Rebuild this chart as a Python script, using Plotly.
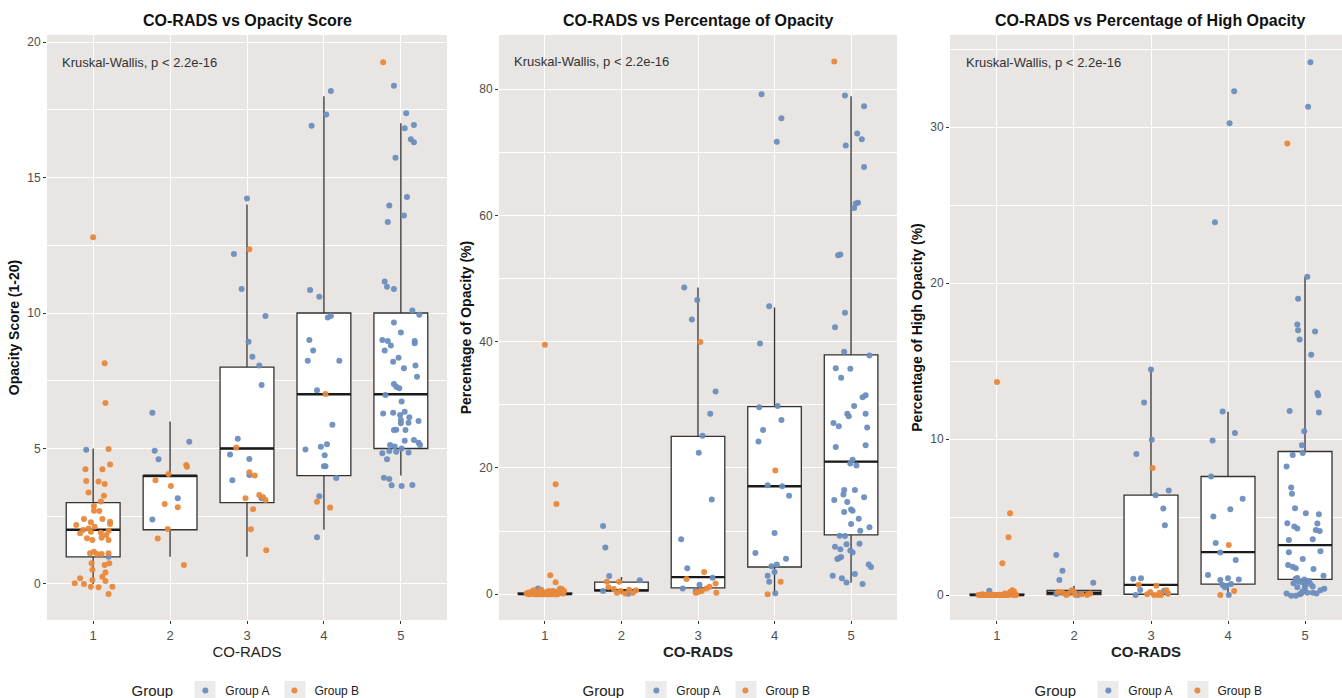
import plotly.graph_objects as go

# ---------------- data ----------------
categories = [1, 2, 3, 4, 5]
tick_labels = ["1", "2", "3", "4", "5"]
group_names = ["Group A", "Group B"]
titles = ["CO-RADS vs Opacity Score", "CO-RADS vs Percentage of Opacity",
          "CO-RADS vs Percentage of High Opacity"]
y_titles = ["Opacity Score (1-20)", "Percentage of Opacity (%)", "Percentage of High Opacity (%)"]
stat_label = "Kruskal-Wallis, p < 2.2e-16"

# box statistics per CO-RADS category
p1_q1 = [1, 2, 3, 4, 5]
p1_med = [2, 4, 5, 7, 7]
p1_q3 = [3, 4, 8, 10, 10]
p1_lo = [0, 1, 1, 2, 4]
p1_hi = [5, 6, 14, 18, 17]

p2_q1 = [0, 0.5, 1.0, 4.3, 9.4]
p2_med = [0, 0.6, 2.7, 17.1, 21.0]
p2_q3 = [0.2, 1.9, 25.0, 29.7, 37.9]
p2_lo = [0, 0, 0, 0, 1.8]
p2_hi = [0.4, 2.7, 48.6, 45.4, 78.9]

p3_q1 = [0, 0.03, 0.05, 0.7, 1.0]
p3_med = [0, 0.15, 0.65, 2.75, 3.2]
p3_q3 = [0.05, 0.3, 6.4, 7.6, 9.2]
p3_lo = [0, 0, 0, 0, 0.1]
p3_hi = [0.1, 0.6, 14.45, 11.75, 20.4]

# jittered points (x = CO-RADS category + jitter)
p1_A_x = [0.91, 1.2,
          1.77, 2.25, 1.8, 1.85, 2.1, 1.77,
          3.0, 2.83, 2.93, 3.24, 3.02, 3.07, 3.16, 3.19, 2.88, 2.78, 3.03, 3.03, 2.81, 3.19,
          4.09, 4.03, 3.84, 3.82, 3.94, 4.05, 4.09, 3.81, 3.86, 3.79, 4.2, 3.91, 4.11, 3.76, 3.96, 4.04,
          4.01, 4.0, 4.02, 4.16, 3.94, 3.91,
          4.91, 5.07, 5.17, 5.05, 5.13, 5.17, 4.93, 5.08, 4.85, 4.83, 5.04, 4.79, 4.82, 4.91, 5.15, 5.24,
          4.91, 5.0, 4.76, 4.83, 4.87, 5.18, 5.18, 4.79, 4.97, 4.9, 5.04, 5.19, 5.21, 4.91, 4.94, 4.98,
          4.8, 5.01, 4.77, 4.9, 4.99, 5.05, 5.11, 5.0, 5.0, 5.1, 5.23, 4.91, 4.94, 5.06, 5.05, 5.17,
          5.23, 5.25, 4.86, 4.92, 5.01, 4.85, 4.94, 4.76, 5.1, 4.82, 4.78, 4.85, 4.88, 5.01, 5.15]
p1_A_y = [4.95, 1.0,
          6.32, 5.25, 4.92, 4.6, 3.16, 2.38,
          14.23, 12.18, 10.89, 9.89, 8.94, 8.39, 8.06, 7.34, 5.36, 4.78, 4.61, 4.02, 3.83, 3.16,
          18.19, 17.33, 16.91, 10.85, 10.6, 9.83, 9.89, 9.0, 8.62, 8.24, 8.24, 7.15, 5.88, 4.96, 5.06, 5.16,
          4.75, 4.34, 4.34, 3.91, 3.24, 1.72,
          18.39, 17.37, 16.94, 16.82, 16.41, 16.3, 15.73, 14.28, 13.97, 13.36, 13.6, 11.16, 10.97, 10.89, 10.09, 9.94,
          9.65, 9.28, 9.0, 8.97, 8.8, 8.97, 8.88, 8.62, 8.35, 8.2, 7.96, 8.06, 7.65, 7.38, 7.28, 7.22,
          6.97, 6.73, 6.29, 6.32, 6.24, 6.36, 6.15, 6.05, 5.93, 5.95, 6.01, 5.68, 5.69, 5.68, 5.29, 5.31,
          5.21, 5.13, 5.13, 5.07, 5.0, 4.91, 4.88, 4.82, 4.85, 4.6, 3.92, 3.87, 3.64, 3.62, 3.65]
p1_B_x = [1.0, 1.15, 1.16, 1.2, 1.22, 0.9, 1.12, 0.91, 1.07, 1.15, 0.94, 1.14, 1.1, 1.01, 1.01, 1.08,
          0.88, 1.12, 1.22, 1.22, 0.78, 0.97, 1.02, 0.94, 0.83, 0.87, 0.97, 1.1, 1.2, 1.17, 0.92, 0.99,
          1.11, 1.2, 0.96, 1.01, 1.05, 1.11, 1.2, 0.98, 1.15, 1.21, 0.99, 1.16, 0.83, 0.76, 0.88, 0.99,
          1.12, 1.16, 1.25, 0.97, 1.07, 1.2,
          2.22, 2.21, 1.98, 1.81, 2.01, 1.93, 2.1, 1.97, 1.84, 2.18,
          3.03, 2.86, 3.03, 3.1, 3.16, 3.21, 3.24, 2.98, 3.08, 3.05, 3.25,
          4.02, 3.91, 4.08,
          4.77]
p1_B_y = [12.8, 8.15, 6.68, 4.98, 4.41, 4.23, 4.23, 3.8, 3.78, 3.69, 3.38, 3.26, 3.04, 2.88, 2.7, 2.69,
          2.4, 2.4, 2.3, 2.21, 2.18, 2.28, 2.11, 2.05, 1.87, 1.99, 1.93, 1.89, 1.96, 1.81, 1.69, 1.62,
          1.71, 1.62, 1.13, 1.19, 1.11, 1.11, 1.13, 0.76, 0.7, 0.76, 0.52, 0.42, 0.21, 0.03, 0.0, 0.15,
          0.27, 0.11, -0.1, -0.1, -0.12, -0.37,
          4.33, 4.39, 4.06, 3.83, 3.62, 2.95, 2.83, 2.03, 1.68, 0.7,
          12.35, 5.04, 4.12, 4.0, 3.28, 3.2, 3.1, 3.16, 2.76, 2.02, 1.24,
          7.01, 3.03, 2.82,
          19.25]

p2_A_x = [0.91,
          1.76, 1.79, 1.84, 2.24, 1.76, 2.09,
          2.82, 2.99, 2.92, 3.23, 3.16, 3.06, 3.01, 3.18, 2.78, 2.86, 3.19, 2.8, 3.02, 2.97,
          3.83, 4.09, 4.03, 3.93, 3.81, 3.8, 4.04, 4.09, 3.85, 3.79, 3.91, 4.1, 4.19, 4.0, 3.75, 4.15,
          3.96, 4.03, 4.0, 3.91, 3.93, 4.01,
          4.92, 5.17, 5.08, 5.14, 4.93, 5.17, 5.04, 5.06, 5.09, 4.83, 4.86, 4.92, 4.79, 4.91, 5.24, 4.8,
          4.99, 4.87, 5.15, 5.19, 5.04, 4.95, 4.97, 5.19, 4.77, 4.84, 5.21, 4.8, 5.19, 5.02, 4.99, 5.07,
          4.91, 4.9, 5.05, 4.78, 5.17, 4.95, 5.0, 5.02, 4.91, 5.1, 5.0, 5.24, 5.12, 4.85, 4.92, 5.11,
          4.94, 4.79, 4.86, 4.99, 5.02, 4.87, 4.84, 4.82, 5.23, 5.26, 5.05, 4.76, 4.88, 4.94, 5.15]
p2_A_y = [0.9,
          10.8, 7.4, 2.86, 2.2, 0.5, 0.05,
          48.6, 46.6, 43.5, 32.1, 28.6, 25.1, 22.4, 15.0, 8.7, 4.1, 2.6, 0.9, 1.5, 0.5,
          79.2, 75.4, 71.7, 45.6, 39.7, 29.6, 29.8, 27.6, 26.0, 24.2, 17.25, 17.1, 15.6, 9.7, 6.5, 5.6,
          4.4, 4.7, 3.5, 2.9, 1.96, 0.15,
          79.0, 77.3, 73.0, 72.1, 71.1, 67.7, 61.2, 61.9, 62.0, 53.7, 53.8, 44.6, 42.3, 38.4, 37.8, 35.8,
          35.7, 34.3, 31.2, 31.5, 29.8, 28.6, 28.2, 28.6, 27.1, 26.6, 26.4, 23.3, 23.6, 21.3, 20.7, 20.4,
          16.5, 15.8, 16.5, 14.9, 15.35, 14.6, 13.4, 13.2, 13.0, 11.95, 11.1, 10.6, 10.05, 9.26, 9.2, 8.0,
          7.9, 7.5, 7.1, 6.9, 6.6, 5.9, 5.7, 5.55, 4.7, 4.3, 3.2, 2.9, 2.5, 1.86, 1.6]
p2_B_x = [1.0, 1.14, 1.15, 1.07, 1.14, 1.2,
          0.76, 0.79, 0.81, 0.83, 0.85, 0.86, 0.88, 0.9, 0.92, 0.93, 0.95, 0.96, 0.98, 0.99, 1.01, 1.02,
          1.03, 1.05, 1.06, 1.08, 1.09, 1.11, 1.12, 1.13, 1.16, 1.17, 1.19, 1.21, 1.22, 1.24, 0.8, 0.84,
          0.89, 0.94, 0.97, 1.0, 1.04, 1.07, 1.1, 1.15, 1.18, 1.23, 0.87, 1.14, 1.2, 0.78, 1.06, 1.25,
          1.81, 1.97, 1.83, 1.9, 1.94, 1.99, 2.05, 2.1, 2.15, 2.19,
          3.03, 3.08, 2.85, 3.23, 3.15, 3.11, 2.97, 2.99, 3.02, 3.05, 3.24,
          4.01, 4.08, 3.91,
          4.78]
p2_B_y = [39.5, 17.4, 14.3, 3.0, 1.9, 0.9,
          0.1, 0.0, 0.3, 0.05, 0.6, 0.0, 0.2, 0.4, 0.0, 0.1, 0.7, 0.0, 0.15, 0.0, 0.3, 0.05,
          0.0, 0.5, 0.1, 0.0, 0.2, 0.0, 0.4, 0.1, 0.0, 0.3, 0.6, 0.2, 0.8, 0.1, 0.0, 0.2,
          0.0, 0.3, 0.0, 0.1, 0.0, 0.2, 0.5, 0.0, 0.1, 0.4, 0.1, 0.0, 0.7, 0.2, 0.0, 0.5,
          1.96, 1.96, 1.1, 0.8, 0.2, 0.5, 0.1, 0.7, 0.2, 0.6,
          39.95, 3.5, 2.4, 1.7, 1.16, 0.9, 0.2, 0.3, 0.4, 0.5, 0.2,
          19.6, 1.96, 0.0,
          84.4]

p3_A_x = [0.9,
          1.77, 1.85, 1.81, 2.25, 1.77, 2.05,
          3.0, 2.91, 3.01, 2.81, 3.23, 3.06, 3.16, 3.18, 2.77, 2.87, 2.86, 2.8, 3.17, 3.22,
          4.08, 4.02, 3.83, 3.93, 4.09, 3.8, 3.78, 4.19, 4.03, 3.81, 3.84, 3.9, 4.1, 3.74, 3.9, 4.0,
          4.14, 3.96, 3.98, 4.04, 3.93, 4.01,
          5.07, 5.04, 5.03, 4.91, 4.9, 4.91, 5.13, 4.93, 5.08, 5.16, 5.17, 4.8, 5.18, 4.99, 4.96, 4.97,
          4.84, 4.76, 4.82, 4.83, 4.87, 5.01, 5.18, 4.77, 4.86, 4.9, 5.16, 5.14, 5.19, 4.79, 5.1, 4.79,
          5.2, 4.97, 4.78, 4.84, 4.88, 5.11, 4.88, 4.9, 4.99, 5.05, 5.24, 4.85, 4.92, 4.97, 5.04, 5.07,
          5.0, 4.97, 5.03, 5.1, 4.93, 4.76, 4.82, 4.88, 5.15, 5.25, 4.95, 5.2, 4.9, 5.1, 5.0]
p3_A_y = [0.28,
          2.57, 1.56, 0.96, 0.79, 0.06, 0.0,
          14.45, 12.35, 9.96, 9.04, 6.7, 6.4, 5.54, 4.47, 1.05, 1.07, 0.32, 0.0, 0.28, 0.1,
          32.3, 30.25, 23.9, 11.77, 10.38, 9.91, 7.6, 6.17, 5.5, 5.03, 3.34, 2.72, 2.25, 1.28, 0.96, 1.07,
          1.0, 0.5, 0.6, 0.7, 0.65, 0.0,
          34.15, 31.3, 20.4, 19.0, 17.34, 16.98, 16.9, 16.38, 15.4, 12.95, 12.8, 11.8, 11.7, 10.5, 9.6, 9.1,
          8.97, 8.24, 6.9, 6.5, 5.57, 5.25, 5.18, 4.6, 4.39, 4.26, 4.58, 4.17, 4.11, 3.53, 3.58, 2.74,
          2.8, 2.31, 1.93, 1.82, 1.71, 1.67, 1.05, 1.1, 1.0, 0.9, 1.24, 0.75, 0.85, 0.8, 0.9, 0.7,
          0.45, 0.25, 0.15, 0.15, 0.05, 0.1, -0.05, -0.05, 0.1, 0.4, 0.1, 0.3, 0.5, 0.55, 0.65]
p3_B_x = [1.0, 1.17, 1.15, 1.07,
          0.76, 0.79, 0.81, 0.83, 0.85, 0.86, 0.88, 0.9, 0.92, 0.93, 0.95, 0.96, 0.98, 0.99, 1.01, 1.02,
          1.03, 1.05, 1.06, 1.08, 1.09, 1.11, 1.12, 1.13, 1.16, 1.17, 1.19, 1.21, 1.22, 1.24, 0.8, 0.84,
          0.89, 0.94, 0.97, 1.0, 1.04, 1.07, 1.1, 1.15, 1.18, 1.23, 0.87, 1.14, 1.2, 0.78, 1.06, 1.25,
          1.79, 1.9, 1.93, 1.97, 2.02, 2.1, 2.17, 2.21, 1.85, 2.0,
          3.02, 2.84, 3.07, 2.99, 3.04, 3.09, 3.13, 3.2, 3.22, 2.95, 3.11,
          4.01, 4.08, 3.9,
          4.77]
p3_B_y = [13.66, 5.25, 3.7, 2.03,
          0.0, 0.0, 0.05, 0.0, 0.0, 0.02, 0.0, 0.0, 0.0, 0.03, 0.0, 0.0, 0.0, 0.0, 0.0, 0.0,
          0.02, 0.0, 0.0, 0.0, 0.0, 0.05, 0.0, 0.0, 0.1, 0.2, 0.15, 0.0, 0.25, 0.05, 0.0, 0.0,
          0.0, 0.0, 0.0, 0.0, 0.0, 0.0, 0.1, 0.0, 0.1, 0.0, 0.0, 0.05, 0.3, 0.0, 0.0, 0.0,
          0.2, 0.0, 0.1, 0.3, 0.0, 0.05, 0.0, 0.1, 0.15, 0.2,
          8.14, 0.66, 0.6, 0.2, 0.0, 0.0, 0.0, 0.3, 0.1, 0.05, 0.15,
          3.21, 0.26, 0.0,
          28.95]

# ---------------- style ----------------
BLUE = "#6C8DBE"
ORANGE = "#E8883A"
PANEL_BG = "#E8E5E3"
FONT = "Liberation Sans, Arial, sans-serif"
BOX_W = 0.7
W, H = 1342, 698

x_domains = [[47 / W, 447 / W], [499 / W, 897 / W], [950 / W, 1.0]]
x_ranges = [[0.4, 5.6], [0.4, 5.6], [0.39, 5.48]]
y_ranges = [[-1.33, 20.26], [-4.1, 88.6], [-1.6, 35.9]]
y_dticks = [5, 20, 10]
y_domain = [1 - 620 / H, 1 - 35 / H]
title_centers = [247 / W, 698 / W, 1150 / W]
xtitle_bold = [False, True, True]
legend_y = 1 - 691 / H
key_offsets = [-42, 48]  # legend key squares relative to legend centre (px)

panels = [
    (p1_q1, p1_med, p1_q3, p1_lo, p1_hi, p1_A_x, p1_A_y, p1_B_x, p1_B_y),
    (p2_q1, p2_med, p2_q3, p2_lo, p2_hi, p2_A_x, p2_A_y, p2_B_x, p2_B_y),
    (p3_q1, p3_med, p3_q3, p3_lo, p3_hi, p3_A_x, p3_A_y, p3_B_x, p3_B_y),
]

fig = go.Figure()
annotations = []
shapes = []
for i, (q1, med, q3, lo, hi, ax_, ay_, bx_, by_) in enumerate(panels):
    sfx = "" if i == 0 else str(i + 1)
    xa, ya = "x" + sfx, "y" + sfx
    leg = "legend" + sfx
    fig.add_trace(go.Box(
        x=categories, q1=q1, median=med, q3=q3, lowerfence=lo, upperfence=hi,
        width=BOX_W, fillcolor="white", line=dict(color="#333333", width=1.3),
        whiskerwidth=0, boxpoints=False, showlegend=False, hoverinfo="skip",
        xaxis=xa, yaxis=ya))
    # thicker median bars (ggplot style)
    mx, my = [], []
    for c, m in zip(categories, med):
        mx += [c - BOX_W / 2, c + BOX_W / 2, None]
        my += [m, m, None]
    fig.add_trace(go.Scatter(x=mx, y=my, mode="lines", line=dict(color="#1a1a1a", width=2.4),
                             showlegend=False, hoverinfo="skip", xaxis=xa, yaxis=ya))
    for name, px, py, col in [(group_names[0], ax_, ay_, BLUE), (group_names[1], bx_, by_, ORANGE)]:
        fig.add_trace(go.Scatter(x=px, y=py, mode="markers", name=name,
                                 marker=dict(color=col, size=6, opacity=0.95),
                                 legend=leg, xaxis=xa, yaxis=ya))
    all_y = list(ay_) + list(by_)
    annotations.append(dict(x=0.57, y=max(all_y), xref=xa, yref=ya, text=stat_label,
                            showarrow=False, xanchor="left", yanchor="middle",
                            font=dict(family=FONT, size=13, color="#333333")))
    annotations.append(dict(x=title_centers[i], y=1 - 20 / H, xref="paper", yref="paper",
                            text="<b>" + titles[i] + "</b>", showarrow=False,
                            xanchor="center", yanchor="middle",
                            font=dict(family=FONT, size=16, color="#111111")))
    xt = "<b>CO-RADS</b>" if xtitle_bold[i] else "CO-RADS"
    fig.layout["xaxis" + sfx] = dict(
        domain=x_domains[i], range=x_ranges[i], anchor=ya, tickvals=categories, ticktext=tick_labels,
        showgrid=True, gridcolor="white", gridwidth=1.2, zeroline=False, automargin=False,
        ticks="outside", ticklen=3, tickcolor="#333333",
        tickfont=dict(family=FONT, size=13, color="#4D4D4D"),
        title=dict(text=xt, font=dict(family=FONT, size=15, color="#222222"), standoff=4))
    fig.layout["yaxis" + sfx] = dict(
        domain=y_domain, range=y_ranges[i], anchor=xa, dtick=y_dticks[i], tick0=0,
        showgrid=True, gridcolor="white", gridwidth=1.2, zeroline=False, automargin=False,
        minor=dict(dtick=y_dticks[i] / 2, tick0=0, showgrid=True, gridcolor="white", gridwidth=0.5),
        ticks="outside", ticklen=3, tickcolor="#333333",
        tickfont=dict(family=FONT, size=12, color="#4D4D4D"),
        title=dict(text="<b>" + y_titles[i] + "</b>", font=dict(family=FONT, size=14, color="#111111"),
                   standoff=4))
    fig.layout[leg] = dict(orientation="h", x=title_centers[i], xanchor="center", y=legend_y,
                           yanchor="middle", bgcolor="rgba(0,0,0,0)",
                           title=dict(text="Group ", side="left",
                                      font=dict(family=FONT, size=15, color="#222222")),
                           font=dict(family=FONT, size=12, color="#222222"),
                           itemwidth=30)
    # grey legend key backgrounds (ggplot legend.key)
    for off in key_offsets:
        cx = title_centers[i] * W + off
        shapes.append(dict(type="rect", xref="paper", yref="paper",
                           x0=(cx - 10.5) / W, x1=(cx + 10.5) / W,
                           y0=1 - 702 / H, y1=1 - 681 / H,
                           fillcolor="#EBEBEB", line=dict(width=0), layer="below"))

fig.update_layout(
    width=W, height=H, margin=dict(l=0, r=0, t=0, b=0, autoexpand=False),
    paper_bgcolor="white", plot_bgcolor=PANEL_BG, annotations=annotations, shapes=shapes,
    font=dict(family=FONT))
fig.write_html("out.html", config={"displayModeBar": False},
               post_script="document.body.style.margin='0';document.body.style.overflow='hidden';")
